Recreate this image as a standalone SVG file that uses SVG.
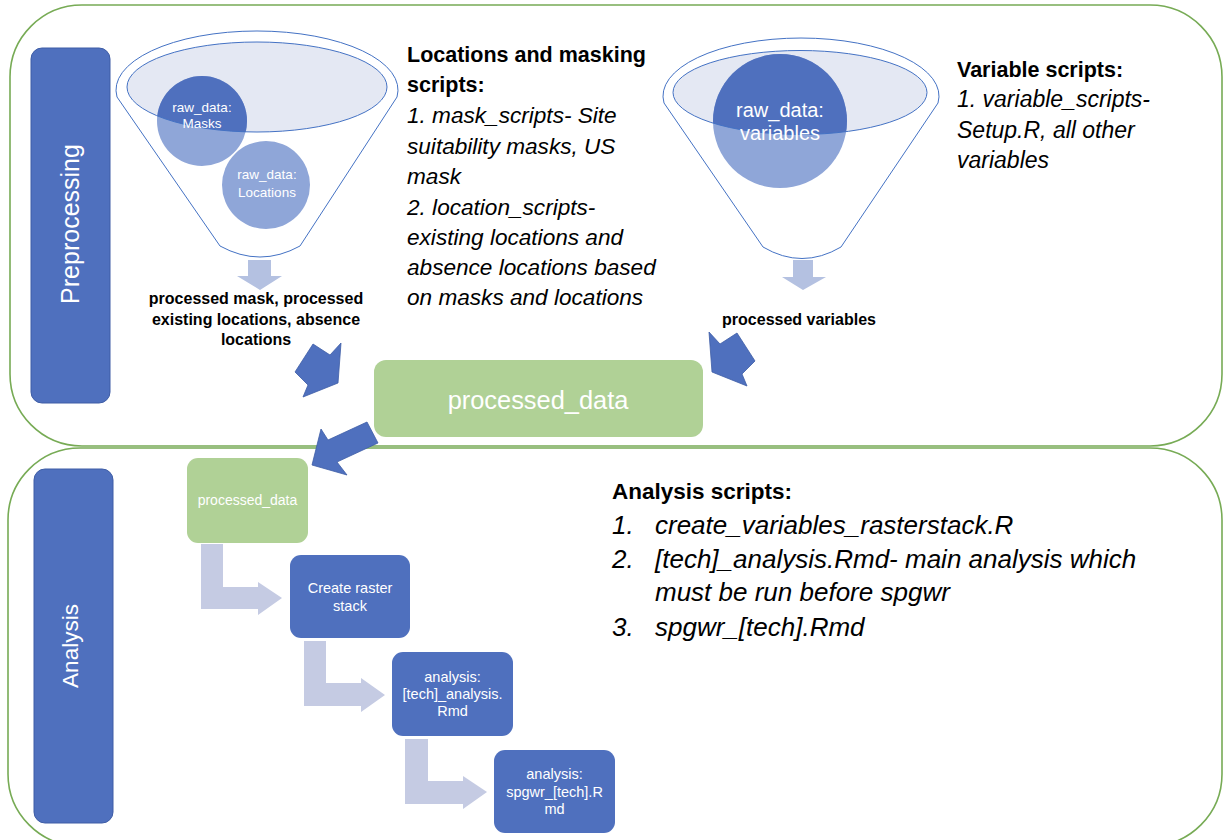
<svg xmlns="http://www.w3.org/2000/svg" width="1224" height="840" viewBox="0 0 1224 840">
<style>
text{font-family:"Liberation Sans",Arial,sans-serif}
.container{fill:#fff;stroke:#77AB55;stroke-width:1.6}
.bar{fill:#4F70BE;stroke:#3E5DA6;stroke-width:1}
.bartxt{fill:#fff;text-anchor:middle}
.blue{fill:#4F70BE}
.green{fill:#B0D196}
.wt{fill:#fff;text-anchor:middle}
.funnel{fill:#fff;stroke:#4472C4;stroke-width:1}
.rim{fill:#E4E8F3}
.rimline{fill:none;stroke:#4472C4;stroke-width:1}
.light{fill:#8FA6D8}
.dark{fill:#4F70BE}
.bigarrow{fill:#4F70BE;stroke:#3E5DA6;stroke-width:0.8}
.downarrow{fill:#B4C1E1}
.bent{fill:#C5CBE3}
.bold{font-weight:bold;fill:#000}
.ital{font-style:italic;fill:#000}
</style>
<defs>
<clipPath id="clipL"><ellipse cx="257" cy="87" rx="130" ry="45"/></clipPath>
<clipPath id="clipR"><ellipse cx="800" cy="92.5" rx="127" ry="42"/></clipPath>
</defs>
<rect width="1224" height="840" fill="#fff"/>

<g id="preprocessing-container">
<rect class="container" x="10" y="5" width="1212" height="441" rx="72" ry="72"/>
</g>
<g id="analysis-container">
<rect class="container" x="8" y="448" width="1214" height="398" rx="72" ry="72"/>
</g>

<g id="preprocessing-label">
<rect class="bar" x="31" y="48" width="79" height="355" rx="11"/>
<text class="bartxt" font-size="25" transform="translate(79,224) rotate(-90)">Preprocessing</text>
</g>
<g id="analysis-label">
<rect class="bar" x="34" y="469" width="79" height="354" rx="11"/>
<text class="bartxt" font-size="22.5" transform="translate(78,646) rotate(-90)">Analysis</text>
</g>

<g id="funnel-left">
<path class="funnel" d="M117,97 A141,59 0 1 1 397,97 L300,246 Q260,268 220,246 Z"/>
<ellipse class="rim" cx="257" cy="87" rx="130" ry="45"/>
<circle class="light" cx="202" cy="121" r="45"/>
<circle class="dark" cx="202" cy="121" r="45" clip-path="url(#clipL)"/>
<circle class="light" cx="266" cy="185" r="44"/>
<ellipse class="rimline" cx="257" cy="87" rx="130" ry="45"/>
<text class="wt" font-size="13.5"><tspan x="202" y="112">raw_data:</tspan><tspan x="202" y="128">Masks</tspan></text>
<text class="wt" font-size="13.5"><tspan x="267" y="179">raw_data:</tspan><tspan x="267" y="197">Locations</tspan></text>
</g>

<g id="funnel-right">
<path class="funnel" d="M664,103 A138,58 0 1 1 938,103 L841,247 Q802,270 763,247 Z"/>
<ellipse class="rim" cx="800" cy="92.5" rx="127" ry="42"/>
<circle class="light" cx="780" cy="121" r="67"/>
<circle class="dark" cx="780" cy="121" r="67" clip-path="url(#clipR)"/>
<ellipse class="rimline" cx="800" cy="92.5" rx="127" ry="42"/>
<text class="wt" font-size="20"><tspan x="780" y="117">raw_data:</tspan><tspan x="780" y="140">variables</tspan></text>
</g>

<g id="masking-scripts-text">
<text class="bold" x="407" y="62" font-size="21.5">Locations and masking</text>
<text class="bold" x="407" y="92" font-size="21.5">scripts:</text>
<text class="ital" font-size="22.6"><tspan x="407" y="123">1. mask_scripts- Site</tspan><tspan x="407" y="154">suitability masks, US</tspan><tspan x="407" y="184">mask</tspan><tspan x="407" y="215">2. location_scripts-</tspan><tspan x="407" y="245">existing locations and</tspan><tspan x="407" y="275">absence locations based</tspan><tspan x="407" y="305">on masks and locations</tspan></text>
</g>

<g id="variable-scripts-text">
<text class="bold" x="957" y="77" font-size="21.5">Variable scripts:</text>
<text class="ital" font-size="23"><tspan x="957" y="107">1. variable_scripts-</tspan><tspan x="957" y="138">Setup.R, all other</tspan><tspan x="957" y="168">variables</tspan></text>
</g>

<g id="processed-outputs-left">
<text class="bold" font-size="16" text-anchor="middle"><tspan x="256" y="304">processed mask, processed</tspan><tspan x="256" y="325">existing locations, absence</tspan><tspan x="256" y="345">locations</tspan></text>
</g>
<g id="processed-outputs-right">
<text class="bold" x="799" y="325" font-size="16" text-anchor="middle">processed variables</text>
</g>

<g id="processed-data-main">
<rect class="green" x="374" y="360" width="329" height="77" rx="12"/>
<text class="wt" x="538" y="409" font-size="25.4">processed_data</text>
</g>

<g id="analysis-processed-data">
<rect class="green" x="187" y="458" width="121" height="85" rx="11"/>
<text class="wt" x="247.5" y="505" font-size="14">processed_data</text>
</g>
<g id="create-raster-stack">
<rect class="blue" x="290" y="555" width="120" height="83" rx="11"/>
<text class="wt" font-size="14.5"><tspan x="350" y="593">Create raster</tspan><tspan x="350" y="611">stack</tspan></text>
</g>
<g id="tech-analysis">
<rect class="blue" x="392" y="652" width="121" height="84" rx="11"/>
<text class="wt" font-size="14.5"><tspan x="452.5" y="682">analysis:</tspan><tspan x="452.5" y="699">[tech]_analysis.</tspan><tspan x="452.5" y="716">Rmd</tspan></text>
</g>
<g id="spgwr">
<rect class="blue" x="494" y="750" width="121" height="83" rx="11"/>
<text class="wt" font-size="14.5"><tspan x="554.5" y="779">analysis:</tspan><tspan x="554.5" y="797">spgwr_[tech].R</tspan><tspan x="554.5" y="814">md</tspan></text>
</g>

<g id="analysis-scripts-text">
<text class="bold" x="612" y="499" font-size="22.5">Analysis scripts:</text>
<text class="ital" font-size="26"><tspan x="612" y="534">1.</tspan><tspan x="655" y="534">create_variables_rasterstack.R</tspan><tspan x="612" y="568">2.</tspan><tspan x="655" y="568">[tech]_analysis.Rmd- main analysis which</tspan><tspan x="655" y="601">must be run before spgwr</tspan><tspan x="612" y="636">3.</tspan><tspan x="655" y="636">spgwr_[tech].Rmd</tspan></text>
</g>

<g id="connectors">
<polygon class="downarrow" points="248,260 271,260 271,276 282,276 260,290 237,276 248,276"/>
<polygon class="downarrow" points="793,260 813,260 813,277 826,277 803,290 782,277 793,277"/>
<polygon class="bigarrow" points="313,344 330,355 341,343 338,383 303,397 308,385 295,372"/>
<polygon class="bigarrow" points="737,333 720,344 709,332 712,372 747,386 742,374 755,361"/>
<polygon class="bigarrow" points="367,422 378,443 337,462 347,475 312,465 321,429 328,440"/>
<polygon class="bent" points="201,544 223,544 223,587 258,587 258,582 282,598 258,615 258,609 201,609"/>
<polygon class="bent" points="304,641 326,641 326,683 361,683 361,678 385,695 361,712 361,706 304,706"/>
<polygon class="bent" points="405,739 428,739 428,781 463,781 463,776 487,792 463,809 463,804 405,804"/>
</g>
</svg>
